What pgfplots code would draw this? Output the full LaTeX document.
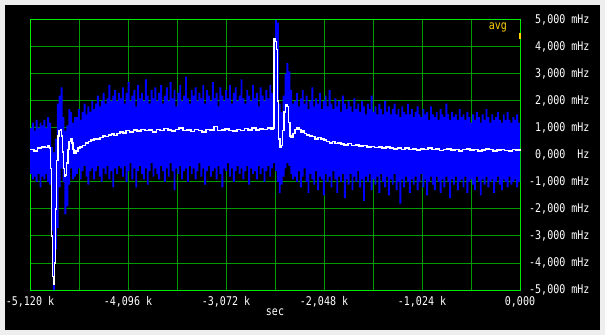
\documentclass[border=0pt]{standalone}
\usepackage{pgfplots}
\pgfplotsset{compat=1.18}
\usepackage{pgfplotstable}
\usepgfplotslibrary{fillbetween}
\usepackage{graphicx}
\usepackage{fontspec}
\newfontfamily\monofont{DejaVu Sans Mono}
\newcommand\lb[1]{\scalebox{1}[1.2]{#1}}
\definecolor{bggray}{RGB}{238,238,238}
\definecolor{gridgreen}{RGB}{0,155,0}
\definecolor{framegreen}{RGB}{0,235,0}
\definecolor{avgyellow}{RGB}{255,210,0}

\pgfplotstableread{
x hi lo
-5120 1.0 -0.7
-5100 1.2 -0.9
-5080 0.9 -0.8
-5060 1.3 -1.0
-5040 1.0 -0.7
-5020 1.2 -1.2
-5000 1.1 -0.8
-4980 1.3 -0.9
-4960 1.0 -0.7
-4940 1.4 -1.0
-4920 1.2 -1.1
-4900 0.3 -2.8
-4880 0.1 -5.0
-4860 0.6 -3.5
-4840 1.9 -2.7
-4820 2.2 -1.2
-4800 2.5 -0.5
-4780 1.4 -1.0
-4760 0.9 -2.2
-4740 1.1 -1.9
-4720 1.7 -1.1
-4700 1.6 -0.5
-4680 1.2 -0.9
-4660 1.4 -0.8
-4640 1.4 -0.7
-4620 1.7 -0.5
-4600 1.3 -0.9
-4580 1.6 -0.6
-4560 1.9 -0.4
-4540 1.5 -0.8
-4520 1.8 -1.1
-4500 1.6 -0.6
-4480 2.0 -0.5
-4460 1.7 -0.9
-4440 1.9 -0.6
-4420 2.2 -0.4
-4400 1.8 -0.8
-4380 2.0 -1.0
-4360 2.3 -0.5
-4340 1.9 -0.7
-4320 2.1 -0.4
-4300 2.6 -0.9
-4280 2.0 -0.6
-4260 2.2 -1.2
-4240 2.4 -0.5
-4220 2.0 -0.7
-4200 2.3 -0.4
-4180 2.1 -0.5
-4160 2.5 -0.8
-4140 1.9 -0.4
-4120 2.3 -1.0
-4100 2.7 -0.6
-4080 2.0 -0.3
-4060 2.2 -0.9
-4040 2.4 -0.5
-4020 1.8 -1.2
-4000 2.6 -0.6
-3980 2.1 -0.4
-3960 2.3 -0.7
-3940 2.0 -0.9
-3920 2.8 -0.5
-3900 2.2 -1.1
-3880 1.9 -0.6
-3860 2.4 -0.3
-3840 2.1 -0.8
-3820 2.5 -0.5
-3800 2.0 -0.7
-3780 2.3 -0.9
-3760 2.6 -0.4
-3740 1.9 -0.6
-3720 2.2 -1.0
-3700 2.5 -0.5
-3680 2.0 -0.8
-3660 2.7 -0.3
-3640 2.1 -0.6
-3620 2.4 -1.3
-3600 1.8 -0.5
-3580 2.3 -0.7
-3560 2.6 -0.4
-3540 2.0 -0.9
-3520 2.2 -0.6
-3500 2.9 -0.5
-3480 2.1 -1.0
-3460 1.9 -0.4
-3440 2.4 -0.7
-3420 2.2 -0.5
-3400 2.5 -0.9
-3380 2.0 -0.6
-3360 2.3 -0.3
-3340 2.1 -0.8
-3320 2.6 -0.5
-3300 1.9 -1.1
-3280 2.4 -0.6
-3260 2.2 -0.4
-3240 2.0 -0.8
-3220 2.7 -0.6
-3200 2.1 -0.5
-3180 2.3 -0.9
-3160 1.8 -0.4
-3140 2.5 -0.7
-3120 2.2 -1.2
-3100 2.0 -0.5
-3080 2.4 -0.6
-3060 2.1 -0.3
-3040 2.6 -0.8
-3020 1.9 -0.5
-3000 2.3 -1.0
-2980 2.5 -0.6
-2960 2.0 -0.4
-2940 2.2 -0.7
-2920 2.8 -0.5
-2900 2.1 -0.9
-2880 1.9 -0.6
-2860 2.4 -0.4
-2840 2.2 -1.1
-2820 2.0 -0.5
-2800 2.6 -0.7
-2780 2.1 -0.6
-2760 2.3 -0.9
-2740 1.8 -0.4
-2720 2.5 -0.7
-2700 2.2 -0.5
-2680 2.0 -1.0
-2660 2.4 -0.6
-2640 2.1 -0.4
-2620 2.6 -0.8
-2600 2.3 -0.5
-2580 2.5 -0.3
-2560 5.0 -0.6
-2540 4.9 -1.0
-2520 1.9 -1.4
-2500 1.6 -1.1
-2480 2.2 -0.8
-2460 3.0 -0.5
-2440 3.4 -0.3
-2420 3.1 -0.4
-2400 2.4 -0.7
-2380 1.9 -0.9
-2360 2.0 -0.8
-2340 2.3 -1.0
-2320 1.8 -0.6
-2300 2.1 -1.2
-2280 2.4 -0.8
-2260 1.9 -0.5
-2240 2.2 -1.0
-2220 1.7 -1.4
-2200 2.0 -0.7
-2180 2.5 -0.9
-2160 1.8 -1.1
-2140 2.1 -0.6
-2120 1.9 -1.3
-2100 2.3 -0.8
-2080 1.7 -0.9
-2060 2.0 -1.5
-2040 2.2 -0.7
-2020 1.8 -1.0
-2000 2.4 -0.8
-1980 1.9 -1.2
-1960 1.7 -0.6
-1940 2.1 -0.9
-1920 1.8 -1.4
-1900 2.0 -0.8
-1880 1.6 -1.0
-1860 2.2 -0.7
-1840 1.9 -1.6
-1820 1.7 -0.9
-1800 2.0 -1.1
-1780 1.8 -0.7
-1760 1.6 -1.3
-1740 2.1 -0.8
-1720 1.7 -1.0
-1700 1.9 -0.6
-1680 1.6 -1.2
-1660 2.0 -0.9
-1640 1.8 -1.7
-1620 1.5 -0.8
-1600 1.9 -1.0
-1580 1.7 -0.7
-1560 2.2 -1.3
-1540 1.6 -0.9
-1520 1.8 -1.1
-1500 1.5 -0.8
-1480 1.9 -1.4
-1460 1.7 -0.7
-1440 1.5 -1.0
-1420 2.0 -1.2
-1400 1.6 -0.8
-1380 1.8 -1.5
-1360 1.5 -0.9
-1340 1.7 -1.1
-1320 1.9 -0.7
-1300 1.5 -1.3
-1280 1.7 -1.0
-1260 1.4 -1.8
-1240 1.8 -0.9
-1220 1.6 -1.2
-1200 1.5 -0.8
-1180 1.9 -1.0
-1160 1.5 -1.4
-1140 1.7 -0.9
-1120 1.4 -1.1
-1100 1.6 -0.8
-1080 1.8 -1.3
-1060 1.5 -1.0
-1040 1.4 -0.7
-1020 1.7 -1.2
-1000 1.5 -0.9
-980 1.6 -1.5
-960 1.3 -1.0
-940 1.8 -0.8
-920 1.5 -1.1
-900 1.4 -1.3
-880 1.6 -0.8
-860 1.3 -1.0
-840 1.7 -1.4
-820 1.5 -0.9
-800 1.4 -1.2
-780 1.9 -0.8
-760 1.5 -1.0
-740 1.3 -1.6
-720 1.6 -0.9
-700 1.4 -1.1
-680 1.5 -0.8
-660 1.3 -1.3
-640 1.7 -1.0
-620 1.4 -0.9
-600 1.5 -1.2
-580 1.3 -0.8
-560 1.6 -1.4
-540 1.4 -1.0
-520 1.2 -0.9
-500 1.5 -1.1
-480 1.3 -1.3
-460 1.6 -0.8
-440 1.4 -1.0
-420 1.2 -1.5
-400 1.5 -0.9
-380 1.3 -1.1
-360 1.7 -0.8
-340 1.4 -1.2
-320 1.2 -1.0
-300 1.5 -0.9
-280 1.3 -1.4
-260 1.4 -1.0
-240 1.6 -0.8
-220 1.3 -1.1
-200 1.2 -1.3
-180 1.5 -0.9
-160 1.3 -1.0
-140 1.6 -1.2
-120 1.3 -0.8
-100 1.2 -1.1
-80 1.4 -1.0
-60 1.3 -0.9
-40 1.5 -1.2
-20 1.2 -1.0
0 1.3 -0.9
}\band

\pgfplotstableread{
x avg
-5120 0.2
-5080 0.15
-5040 0.25
-5000 0.3
-4960 0.28
-4930 0.35
-4915 0.25
-4905 -0.5
-4895 -3.0
-4885 -4.5
-4875 -4.8
-4865 -4.0
-4855 -2.0
-4845 -0.2
-4830 0.7
-4815 0.9
-4800 0.95
-4790 0.7
-4780 0.1
-4770 -0.5
-4760 -0.8
-4750 -0.75
-4740 -0.3
-4725 0.2
-4710 0.5
-4695 0.6
-4680 0.45
-4670 0.2
-4660 0.07
-4640 0.15
-4620 0.25
-4600 0.3
-4570 0.35
-4540 0.45
-4510 0.5
-4480 0.55
-4450 0.6
-4420 0.6
-4390 0.65
-4360 0.7
-4330 0.68
-4300 0.75
-4270 0.78
-4240 0.72
-4210 0.8
-4180 0.85
-4150 0.82
-4120 0.9
-4080 0.85
-4040 0.92
-4000 0.88
-3960 0.95
-3920 0.9
-3880 0.93
-3840 0.86
-3800 0.95
-3760 0.9
-3720 0.98
-3680 0.92
-3640 0.88
-3600 0.95
-3560 1.0
-3520 0.9
-3480 0.93
-3440 0.87
-3400 0.95
-3360 0.9
-3320 0.85
-3280 0.95
-3240 0.92
-3200 1.05
-3160 0.9
-3120 0.93
-3080 0.97
-3040 0.9
-3000 0.88
-2960 0.95
-2920 0.9
-2880 0.98
-2840 0.92
-2800 1.0
-2760 0.93
-2720 0.97
-2680 0.95
-2640 1.0
-2600 0.97
-2580 1.0
-2570 4.3
-2555 4.2
-2545 3.9
-2535 2.0
-2525 0.6
-2510 0.3
-2495 0.35
-2480 0.9
-2465 1.6
-2450 1.85
-2435 1.8
-2420 1.2
-2405 0.7
-2390 0.65
-2370 0.8
-2350 0.95
-2330 1.0
-2310 0.95
-2290 0.85
-2270 0.9
-2250 0.8
-2230 0.75
-2200 0.7
-2170 0.68
-2140 0.6
-2110 0.65
-2080 0.6
-2050 0.55
-2020 0.5
-1990 0.45
-1960 0.5
-1930 0.42
-1900 0.45
-1870 0.4
-1840 0.38
-1800 0.42
-1760 0.35
-1720 0.38
-1680 0.33
-1640 0.35
-1600 0.3
-1560 0.32
-1520 0.28
-1480 0.3
-1440 0.25
-1400 0.3
-1360 0.27
-1320 0.22
-1280 0.25
-1240 0.2
-1200 0.25
-1160 0.2
-1120 0.22
-1080 0.18
-1040 0.22
-1000 0.2
-960 0.25
-920 0.2
-880 0.22
-840 0.17
-800 0.2
-760 0.23
-720 0.18
-680 0.2
-640 0.15
-600 0.2
-560 0.22
-520 0.18
-480 0.2
-440 0.15
-400 0.18
-360 0.22
-320 0.2
-280 0.15
-240 0.18
-200 0.2
-160 0.17
-120 0.15
-80 0.2
-40 0.18
0 0.17
}\avgdata

\begin{document}
\begin{tikzpicture}
\begin{axis}[
  set layers,
  at={(30pt,45pt)}, anchor=south west,
  scale only axis, width=490pt, height=270pt,
  xmin=-5120, xmax=0, ymin=-5, ymax=5,
  clip=false,
  axis background/.style={fill=black},
  axis line style={framegreen, line width=1pt},
  grid=major,
  major grid style={gridgreen, line width=1pt},
  major tick length=0pt,
  xtick={-5120,-4608,-4096,-3584,-3072,-2560,-2048,-1536,-1024,-512,0},
  xticklabels={{\lb{-5,120 k}},{},{\lb{-4,096 k}},{},{\lb{-3,072 k}},{},{\lb{-2,048 k}},{},{\lb{-1,024 k}},{},{\lb{0,000}}},
  ytick={-5,-4,-3,-2,-1,0,1,2,3,4,5},
  yticklabels={{\lb{-5,000 mHz}},{\lb{-4,000 mHz}},{\lb{-3,000 mHz}},{\lb{-2,000 mHz}},{\lb{-1,000 mHz}},{\lb{\phantom{-}0,000\ \ Hz}},{\lb{\phantom{-}1,000 mHz}},{\lb{\phantom{-}2,000 mHz}},{\lb{\phantom{-}3,000 mHz}},{\lb{\phantom{-}4,000 mHz}},{\lb{\phantom{-}5,000 mHz}}},
  yticklabel pos=right,
  ticklabel style={font=\monofont\fontsize{10}{12}\selectfont, text=white},
  yticklabel style={anchor=west, inner sep=0pt, xshift=9pt},
  xticklabel style={anchor=north, inner sep=0pt, yshift=-6pt},
  xlabel={\lb{sec}},
  xlabel style={font=\monofont\fontsize{10}{12}\selectfont, text=white, at={(axis description cs:0.5,0)}, anchor=center, yshift=-22pt, inner sep=0pt},
]
\begin{pgfonlayer}{axis background}
\fill[bggray] ([xshift=-30pt,yshift=-45pt]rel axis cs:0,0) rectangle ([xshift=85pt,yshift=20pt]rel axis cs:1,1);
\fill[black] ([xshift=-25pt,yshift=-40pt]rel axis cs:0,0) rectangle ([xshift=80pt,yshift=15pt]rel axis cs:1,1);
\end{pgfonlayer}
\addplot[draw=none, const plot, name path=hi, forget plot] table[x=x, y=hi] {\band};
\addplot[draw=none, const plot, name path=lo, forget plot] table[x=x, y=lo] {\band};
\addplot[fill=blue, draw=none] fill between[of=hi and lo];
\addplot[white, line width=1.6pt, const plot] table[x=x, y=avg] {\avgdata};
\addplot[avgyellow, line width=2.5pt] coordinates {(0,4.3) (0,4.52)};
\node[text=avgyellow, font=\monofont\fontsize{10}{12}\selectfont, inner sep=0pt] at (rel axis cs:0.955,0.974) {\lb{avg}};
\end{axis}
\end{tikzpicture}
\end{document}
